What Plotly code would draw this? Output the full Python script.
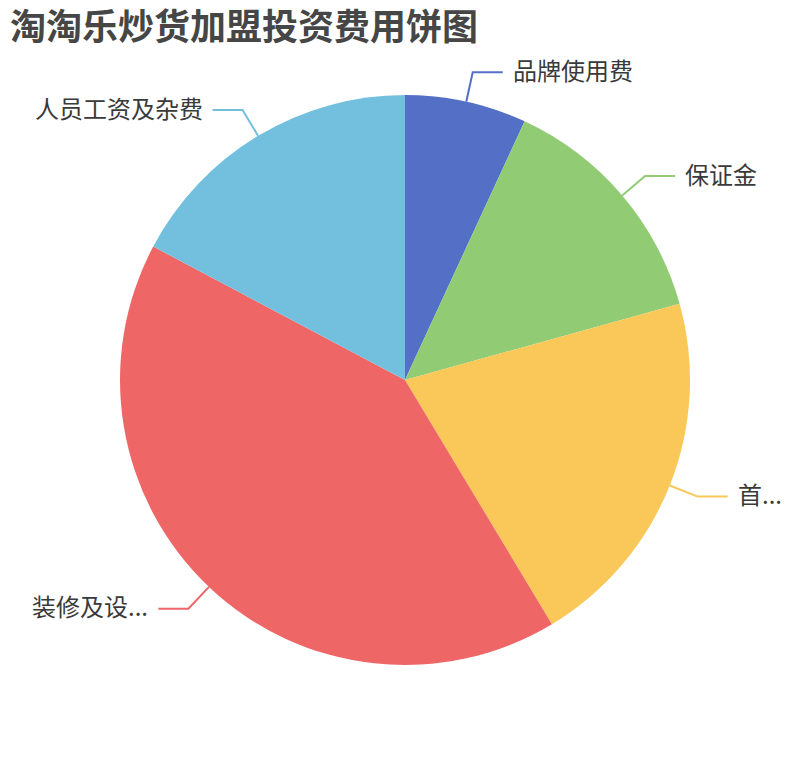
import math

import plotly.graph_objects as go

# Investment cost breakdown (万元)
categories = ["品牌使用费", "保证金", "首...", "装修及设...", "人员工资及杂费"]
values = [5, 10, 15, 30, 12.5]
colors = ["#5470c6", "#91cc75", "#fac858", "#ee6666", "#73c0de"]

# the page body adds an 8px margin, so draw in a slightly smaller canvas
OFF = 8
W, H = 810 - OFF, 760 - OFF
CX, CY, R = 405 - OFF, 380 - OFF, 285   # pie centre / radius in px
LEN1, LEN2, GAP = 30, 30, 8             # label line pieces in px

fig = go.Figure()
fig.add_trace(
    go.Pie(
        labels=categories,
        values=values,
        sort=False,
        direction="clockwise",
        rotation=0,
        textinfo="none",
        marker=dict(colors=colors, line=dict(width=0)),
        domain=dict(x=[(CX - R) / W, (CX + R) / W], y=[(H - CY - R) / H, (H - CY + R) / H]),
        hovertemplate="%{label}: %{value} (%{percent})<extra></extra>",
        showlegend=False,
    )
)


def px(x, y):
    return x / W, 1 - y / H


# ECharts-style label lines: radial segment then horizontal segment
total = sum(values)
start = 0.0
for name, v, c in zip(categories, values, colors):
    mid = (start + v / 2) / total * 2 * math.pi
    start += v
    sx, sy = CX + R * math.sin(mid), CY - R * math.cos(mid)
    ex, ey = CX + (R + LEN1) * math.sin(mid), CY - (R + LEN1) * math.cos(mid)
    side = 1 if math.sin(mid) >= 0 else -1
    hx = ex + side * LEN2
    pts = [px(sx, sy), px(ex, ey), px(hx, ey)]
    path = "M {} {} L {} {} L {} {}".format(*[p for pt in pts for p in pt])
    fig.add_shape(type="path", path=path, xref="paper", yref="paper",
                  line=dict(color=c, width=2))
    lx, ly = px(hx + side * GAP, ey)
    fig.add_annotation(
        x=lx, y=ly, xref="paper", yref="paper", text=name, showarrow=False,
        xanchor="left" if side > 0 else "right", yanchor="middle", yshift=3,
        font=dict(size=24, color="#3a3a3a", family="Noto Sans CJK SC"),
    )

fig.update_layout(
    width=W,
    height=H,
    margin=dict(l=0, r=0, t=0, b=0),
    paper_bgcolor="white",
    plot_bgcolor="white",
    font=dict(family="Noto Sans CJK SC"),
    title=dict(
        text="<b>淘淘乐炒货加盟投资费用饼图</b>",
        xref="container", yref="container",
        x=(10 - OFF) / W, y=1 - (27 - OFF) / H, xanchor="left", yanchor="middle",
        font=dict(size=36, color="#464646", family="Noto Sans CJK SC"),
    ),
)

fig.write_html("out.html")
